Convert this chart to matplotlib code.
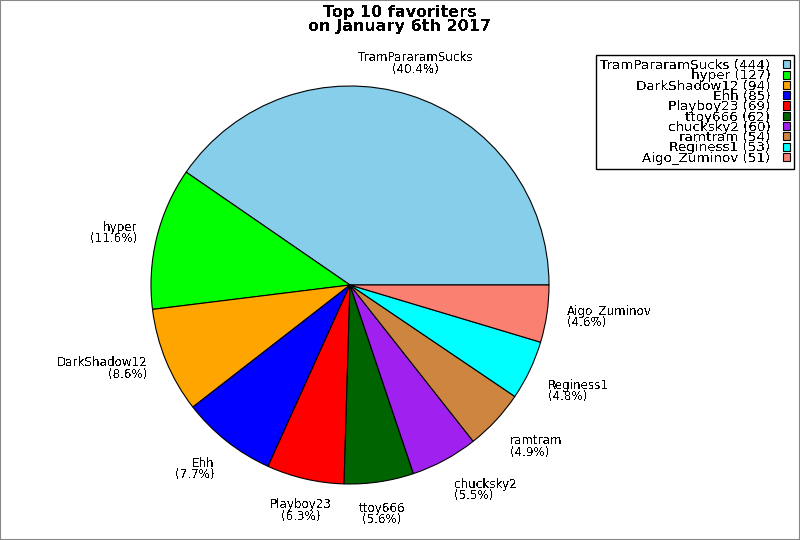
import numpy as np
import matplotlib
matplotlib.use("Agg")
import matplotlib.pyplot as plt
from matplotlib.patches import Rectangle

names = ["TramPararamSucks", "hyper", "DarkShadow12", "Ehh", "Playboy23",
         "ttoy666", "chucksky2", "ramtram", "Reginess1", "Aigo_Zuminov"]
counts = [444, 127, 94, 85, 69, 62, 60, 54, 53, 51]
colors = ["#87CEEB", "#00FF00", "#FFA500", "#0000FF", "#FF0000",
          "#006400", "#A020F0", "#CD853F", "#00FFFF", "#FA8072"]
title = "Top 10 favoriters\non January 6th 2017"

plt.rcParams['font.family'] = ['DejaVu Sans']
plt.rcParams['text.antialiased'] = False

fig = plt.figure(figsize=(8, 5.4), dpi=100)
fig.patches.append(Rectangle((0, 0), 1, 1, transform=fig.transFigure,
                             fill=False, edgecolor='#888888', linewidth=1.5))

ax = fig.add_axes([151/800, 56/540, 398/800, 398/540])
total = sum(counts)
labels = [f"{n}\n({c/total*100:.1f}%)" for n, c in zip(names, counts)]
wedges, texts = ax.pie(counts, colors=colors, labels=labels, startangle=0,
                       counterclock=True, labeldistance=1.1,
                       wedgeprops=dict(edgecolor='black', linewidth=0.8),
                       textprops=dict(fontsize=8.6, linespacing=0.85))
for w, t in zip(wedges, texts):
    ang = np.deg2rad((w.theta1 + w.theta2) / 2)
    c, s = np.cos(ang), np.sin(ang)
    ha = 'center' if abs(c) < 0.4 else ('left' if c > 0 else 'right')
    va = 'center' if abs(s) < 0.41 else ('bottom' if s > 0 else 'top')
    t.set_ha(ha)
    t.set_va(va)
    t.set_multialignment(ha)
ax.set_xlim(-1, 1)
ax.set_ylim(-1, 1)
ax.set_aspect('equal')
ax.axis('off')

fig.suptitle(title, fontsize=11.5, fontweight='bold', y=1 - 5/540, va='top',
             linespacing=0.95)

leg_labels = [f"{n} ({c})" for n, c in zip(names, counts)]
leg = fig.legend(wedges, leg_labels, loc='upper right',
                 bbox_to_anchor=(794/800, 1 - 55/540), borderaxespad=0,
                 markerfirst=False, fontsize=9.7, labelspacing=-0.2,
                 handlelength=0.55, handleheight=0.55, handletextpad=0.9,
                 borderpad=0.3, fancybox=False, framealpha=1,
                 edgecolor='black')
leg.get_frame().set_linewidth(1.0)

fig.savefig("out.png", dpi=100)
